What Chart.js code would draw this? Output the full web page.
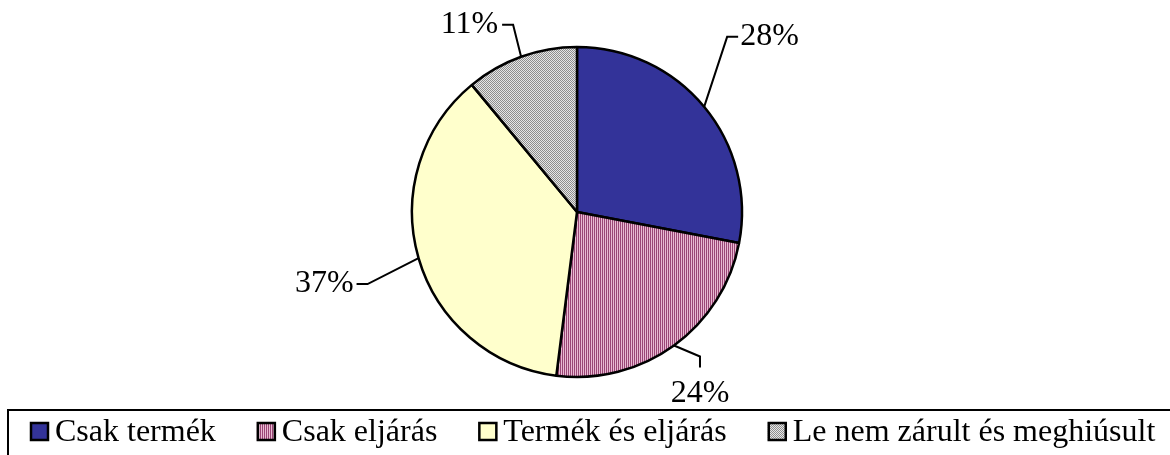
<!DOCTYPE html>
<html>
<head>
<meta charset="utf-8">
<script src="https://cdn.jsdelivr.net/npm/chart.js@4"></script>
<style>
    body { margin: 0; background: #fff; }
    canvas { display: block; }
</style>
</head>
<body>
<canvas id="pie-chart" width="1170" height="455"></canvas>
<script>
const categories = ["Csak termék", "Csak eljárás", "Termék és eljárás", "Le nem zárult és meghiúsult"];
const shares = [28, 24, 37, 11];
const shareLabels = ["28%", "24%", "37%", "11%"];

// leader line layout per slice: elbow, line end, text anchor (relative to arc edge point)
const leaderLayout = [
    { elbow: [23, -70], end: [34, -70], text: [36, -70], align: "left" },
    { elbow: [26, 11], end: [26, 22], text: [26, 48], align: "center" },
    { elbow: [-51, 26], end: [-62, 26], text: [-65, 26], align: "right" },
    { elbow: [-8, -32], end: [-19, -32], text: [-23, -32], align: "right" }
];

const FONT = "32px 'Liberation Serif', 'Times New Roman', serif";

function makePattern(w, h, draw) {
    const c = document.createElement("canvas");
    c.width = w;
    c.height = h;
    draw(c.getContext("2d"));
    return c.getContext("2d").createPattern(c, "repeat");
}

const stripes = makePattern(2, 2, g => {
    g.fillStyle = "#e8bad2";
    g.fillRect(0, 0, 2, 2);
    g.fillStyle = "#9a4676";
    g.fillRect(0, 0, 1, 2);
});

const checker = makePattern(2, 2, g => {
    g.fillStyle = "#e6e6e6";
    g.fillRect(0, 0, 2, 2);
    g.fillStyle = "#8e8e8e";
    g.fillRect(0, 0, 1, 1);
    g.fillRect(1, 1, 1, 1);
});

const fills = ["#333399", stripes, "#ffffcc", checker];

const leaderLines = {
    id: "leaderLines",
    afterDatasetsDraw(chart) {
        const ctx = chart.ctx;
        const arcs = chart.getDatasetMeta(0).data;
        ctx.save();
        ctx.strokeStyle = "#000";
        ctx.lineWidth = 2;
        ctx.fillStyle = "#000";
        ctx.font = FONT;
        ctx.textBaseline = "middle";
        arcs.forEach((arc, i) => {
            const mid = (arc.startAngle + arc.endAngle) / 2;
            const ax = arc.x + Math.cos(mid) * arc.outerRadius;
            const ay = arc.y + Math.sin(mid) * arc.outerRadius;
            const l = leaderLayout[i];
            ctx.beginPath();
            ctx.moveTo(ax, ay);
            ctx.lineTo(ax + l.elbow[0], ay + l.elbow[1]);
            ctx.lineTo(ax + l.end[0], ay + l.end[1]);
            ctx.stroke();
            ctx.textAlign = l.align;
            ctx.fillText(shareLabels[i], ax + l.text[0], ay + l.text[1]);
        });
        ctx.restore();
    }
};

const boxLegend = {
    id: "boxLegend",
    afterDraw(chart) {
        const ctx = chart.ctx;
        ctx.save();
        ctx.strokeStyle = "#000";
        ctx.lineWidth = 2;
        ctx.strokeRect(8, 410, chart.width + 20, 80);
        ctx.font = FONT;
        ctx.textBaseline = "middle";
        ctx.textAlign = "left";
        let x = 30;
        categories.forEach((name, i) => {
            ctx.fillStyle = fills[i];
            ctx.fillRect(x, 422, 19, 19);
            ctx.lineWidth = 2.5;
            ctx.strokeRect(x + 1, 423, 17, 17);
            ctx.fillStyle = "#000";
            ctx.fillText(name, x + 25, 433);
            x += 25 + ctx.measureText(name).width + 41;
        });
        ctx.restore();
    }
};

new Chart(document.getElementById("pie-chart").getContext("2d"), {
    type: "pie",
    data: {
        labels: categories,
        datasets: [{
            data: shares,
            backgroundColor: fills,
            borderColor: "#000",
            borderWidth: 2.5,
            radius: 165
        }]
    },
    options: {
        responsive: false,
        animation: false,
        devicePixelRatio: 1,
        layout: { padding: { top: 30, bottom: 61, left: 0, right: 16 } },
        plugins: {
            legend: { display: false },
            tooltip: { enabled: false }
        }
    },
    plugins: [leaderLines, boxLegend]
});
</script>
</body>
</html>
